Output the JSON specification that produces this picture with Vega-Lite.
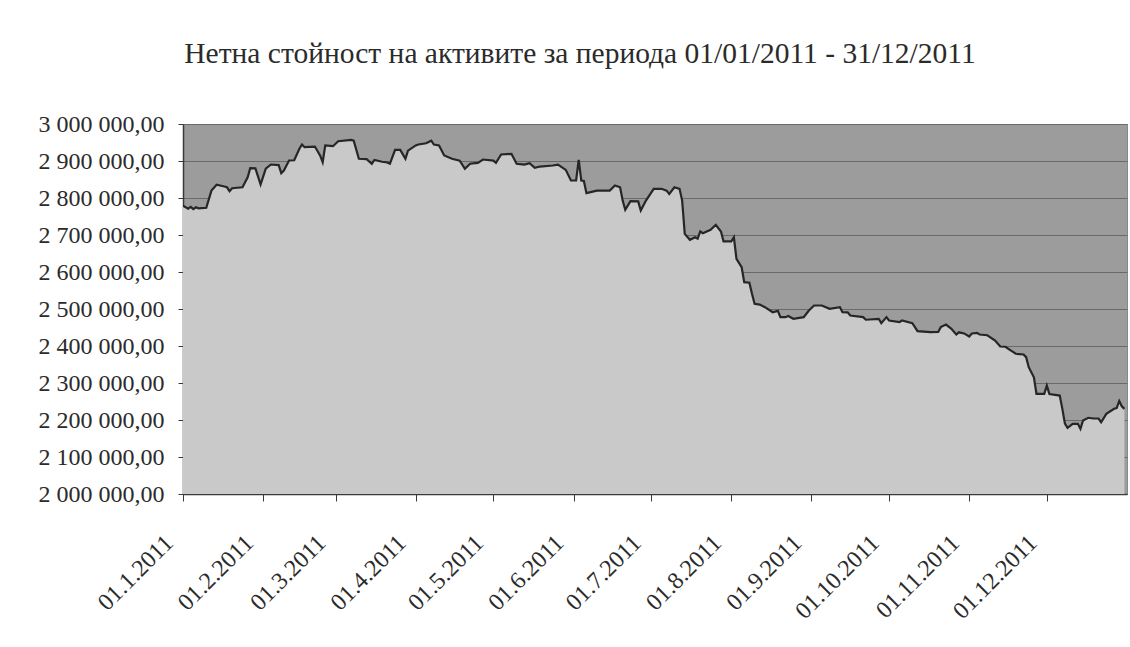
{
  "$schema": "https://vega.github.io/schema/vega-lite/v6.json",
  "width": 944,
  "height": 370,
  "autosize": {"type": "none"},
  "padding": {"left": 183, "top": 124, "right": 3, "bottom": 153},
  "background": "#ffffff",
  "config": {
    "locale": {"number": {"decimal": ",", "thousands": " ", "grouping": [3], "currency": ["", ""]}},
    "view": {"fill": "#9c9c9c", "stroke": "#888888", "strokeWidth": 1},
    "font": "Liberation Serif"
  },
  "title": {
    "text": "Нетна стойност на активите за периода 01/01/2011 - 31/12/2011",
    "font": "Liberation Serif",
    "fontSize": 29.5,
    "fontWeight": "normal",
    "color": "#2b2b2b",
    "anchor": "middle",
    "dx": -75,
    "offset": 43
  },
  "data": {"values": [
    {"date": "2011-01-01", "nav": 2779000},
    {"date": "2011-01-03", "nav": 2771000},
    {"date": "2011-01-04", "nav": 2776000},
    {"date": "2011-01-05", "nav": 2770000},
    {"date": "2011-01-06", "nav": 2775000},
    {"date": "2011-01-07", "nav": 2772000},
    {"date": "2011-01-10", "nav": 2773500},
    {"date": "2011-01-12", "nav": 2820000},
    {"date": "2011-01-14", "nav": 2835700},
    {"date": "2011-01-17", "nav": 2831000},
    {"date": "2011-01-18", "nav": 2829000},
    {"date": "2011-01-19", "nav": 2818500},
    {"date": "2011-01-20", "nav": 2826500},
    {"date": "2011-01-24", "nav": 2829000},
    {"date": "2011-01-26", "nav": 2856000},
    {"date": "2011-01-27", "nav": 2880600},
    {"date": "2011-01-29", "nav": 2880000},
    {"date": "2011-01-31", "nav": 2836500},
    {"date": "2011-02-02", "nav": 2879000},
    {"date": "2011-02-04", "nav": 2890500},
    {"date": "2011-02-07", "nav": 2889000},
    {"date": "2011-02-08", "nav": 2867000},
    {"date": "2011-02-09", "nav": 2874000},
    {"date": "2011-02-11", "nav": 2901300},
    {"date": "2011-02-13", "nav": 2902000},
    {"date": "2011-02-15", "nav": 2933000},
    {"date": "2011-02-16", "nav": 2944600},
    {"date": "2011-02-17", "nav": 2937300},
    {"date": "2011-02-21", "nav": 2939000},
    {"date": "2011-02-23", "nav": 2915000},
    {"date": "2011-02-24", "nav": 2896800},
    {"date": "2011-02-25", "nav": 2942000},
    {"date": "2011-02-28", "nav": 2940000},
    {"date": "2011-03-02", "nav": 2953500},
    {"date": "2011-03-07", "nav": 2957000},
    {"date": "2011-03-08", "nav": 2955000},
    {"date": "2011-03-10", "nav": 2906000},
    {"date": "2011-03-13", "nav": 2905000},
    {"date": "2011-03-15", "nav": 2892400},
    {"date": "2011-03-16", "nav": 2903000},
    {"date": "2011-03-19", "nav": 2898000},
    {"date": "2011-03-21", "nav": 2896000},
    {"date": "2011-03-22", "nav": 2892500},
    {"date": "2011-03-24", "nav": 2930000},
    {"date": "2011-03-26", "nav": 2930000},
    {"date": "2011-03-28", "nav": 2906000},
    {"date": "2011-03-29", "nav": 2928000},
    {"date": "2011-04-01", "nav": 2942000},
    {"date": "2011-04-02", "nav": 2944600},
    {"date": "2011-04-05", "nav": 2948000},
    {"date": "2011-04-07", "nav": 2955000},
    {"date": "2011-04-08", "nav": 2944600},
    {"date": "2011-04-10", "nav": 2942000},
    {"date": "2011-04-12", "nav": 2915000},
    {"date": "2011-04-15", "nav": 2906000},
    {"date": "2011-04-18", "nav": 2901000},
    {"date": "2011-04-20", "nav": 2879000},
    {"date": "2011-04-22", "nav": 2892500},
    {"date": "2011-04-25", "nav": 2895000},
    {"date": "2011-04-27", "nav": 2904000},
    {"date": "2011-05-01", "nav": 2901000},
    {"date": "2011-05-02", "nav": 2895000},
    {"date": "2011-05-04", "nav": 2917500},
    {"date": "2011-05-08", "nav": 2919500},
    {"date": "2011-05-10", "nav": 2892500},
    {"date": "2011-05-13", "nav": 2890500},
    {"date": "2011-05-15", "nav": 2894000},
    {"date": "2011-05-17", "nav": 2881600},
    {"date": "2011-05-19", "nav": 2885000},
    {"date": "2011-05-24", "nav": 2887800},
    {"date": "2011-05-26", "nav": 2890000},
    {"date": "2011-05-29", "nav": 2876000},
    {"date": "2011-05-31", "nav": 2847300},
    {"date": "2011-06-02", "nav": 2847300},
    {"date": "2011-06-03", "nav": 2903000},
    {"date": "2011-06-04", "nav": 2847000},
    {"date": "2011-06-05", "nav": 2846000},
    {"date": "2011-06-06", "nav": 2813000},
    {"date": "2011-06-10", "nav": 2820000},
    {"date": "2011-06-15", "nav": 2820000},
    {"date": "2011-06-17", "nav": 2833800},
    {"date": "2011-06-19", "nav": 2829000},
    {"date": "2011-06-20", "nav": 2793000},
    {"date": "2011-06-21", "nav": 2768000},
    {"date": "2011-06-23", "nav": 2791500},
    {"date": "2011-06-26", "nav": 2791000},
    {"date": "2011-06-27", "nav": 2766200},
    {"date": "2011-06-29", "nav": 2793000},
    {"date": "2011-07-02", "nav": 2824800},
    {"date": "2011-07-05", "nav": 2825000},
    {"date": "2011-07-07", "nav": 2820000},
    {"date": "2011-07-08", "nav": 2811000},
    {"date": "2011-07-10", "nav": 2829000},
    {"date": "2011-07-12", "nav": 2824800},
    {"date": "2011-07-13", "nav": 2793000},
    {"date": "2011-07-14", "nav": 2703000},
    {"date": "2011-07-16", "nav": 2687000},
    {"date": "2011-07-18", "nav": 2694000},
    {"date": "2011-07-19", "nav": 2690000},
    {"date": "2011-07-20", "nav": 2709500},
    {"date": "2011-07-21", "nav": 2705000},
    {"date": "2011-07-24", "nav": 2714000},
    {"date": "2011-07-26", "nav": 2727500},
    {"date": "2011-07-28", "nav": 2709500},
    {"date": "2011-07-29", "nav": 2683000},
    {"date": "2011-08-01", "nav": 2683000},
    {"date": "2011-08-02", "nav": 2694000},
    {"date": "2011-08-03", "nav": 2635600},
    {"date": "2011-08-05", "nav": 2613000},
    {"date": "2011-08-06", "nav": 2572400},
    {"date": "2011-08-08", "nav": 2571000},
    {"date": "2011-08-09", "nav": 2541000},
    {"date": "2011-08-10", "nav": 2514000},
    {"date": "2011-08-12", "nav": 2512000},
    {"date": "2011-08-14", "nav": 2505000},
    {"date": "2011-08-17", "nav": 2491300},
    {"date": "2011-08-19", "nav": 2495000},
    {"date": "2011-08-20", "nav": 2478000},
    {"date": "2011-08-22", "nav": 2478000},
    {"date": "2011-08-23", "nav": 2481000},
    {"date": "2011-08-25", "nav": 2473500},
    {"date": "2011-08-29", "nav": 2478000},
    {"date": "2011-08-31", "nav": 2496000},
    {"date": "2011-09-02", "nav": 2509500},
    {"date": "2011-09-05", "nav": 2509500},
    {"date": "2011-09-08", "nav": 2500500},
    {"date": "2011-09-12", "nav": 2505000},
    {"date": "2011-09-13", "nav": 2491300},
    {"date": "2011-09-15", "nav": 2491000},
    {"date": "2011-09-16", "nav": 2482500},
    {"date": "2011-09-21", "nav": 2478000},
    {"date": "2011-09-22", "nav": 2471000},
    {"date": "2011-09-27", "nav": 2473500},
    {"date": "2011-09-28", "nav": 2461700},
    {"date": "2011-09-30", "nav": 2478000},
    {"date": "2011-10-01", "nav": 2469000},
    {"date": "2011-10-05", "nav": 2464500},
    {"date": "2011-10-06", "nav": 2469000},
    {"date": "2011-10-10", "nav": 2461700},
    {"date": "2011-10-12", "nav": 2440000},
    {"date": "2011-10-17", "nav": 2437300},
    {"date": "2011-10-20", "nav": 2438000},
    {"date": "2011-10-21", "nav": 2451000},
    {"date": "2011-10-23", "nav": 2458000},
    {"date": "2011-10-25", "nav": 2447000},
    {"date": "2011-10-27", "nav": 2431000},
    {"date": "2011-10-28", "nav": 2437000},
    {"date": "2011-10-30", "nav": 2434000},
    {"date": "2011-11-01", "nav": 2425700},
    {"date": "2011-11-02", "nav": 2434000},
    {"date": "2011-11-04", "nav": 2435600},
    {"date": "2011-11-05", "nav": 2431000},
    {"date": "2011-11-08", "nav": 2429000},
    {"date": "2011-11-11", "nav": 2414800},
    {"date": "2011-11-13", "nav": 2398600},
    {"date": "2011-11-15", "nav": 2398000},
    {"date": "2011-11-17", "nav": 2388000},
    {"date": "2011-11-19", "nav": 2379000},
    {"date": "2011-11-22", "nav": 2377000},
    {"date": "2011-11-23", "nav": 2369800},
    {"date": "2011-11-24", "nav": 2342700},
    {"date": "2011-11-26", "nav": 2315600},
    {"date": "2011-11-27", "nav": 2270600},
    {"date": "2011-11-30", "nav": 2270600},
    {"date": "2011-12-01", "nav": 2293000},
    {"date": "2011-12-02", "nav": 2270000},
    {"date": "2011-12-06", "nav": 2266000},
    {"date": "2011-12-07", "nav": 2230000},
    {"date": "2011-12-08", "nav": 2190000},
    {"date": "2011-12-09", "nav": 2178900},
    {"date": "2011-12-11", "nav": 2189700},
    {"date": "2011-12-13", "nav": 2189700},
    {"date": "2011-12-14", "nav": 2176000},
    {"date": "2011-12-15", "nav": 2198600},
    {"date": "2011-12-17", "nav": 2206000},
    {"date": "2011-12-19", "nav": 2204000},
    {"date": "2011-12-21", "nav": 2204000},
    {"date": "2011-12-22", "nav": 2194000},
    {"date": "2011-12-24", "nav": 2216700},
    {"date": "2011-12-27", "nav": 2230300},
    {"date": "2011-12-28", "nav": 2232000},
    {"date": "2011-12-29", "nav": 2251000},
    {"date": "2011-12-30", "nav": 2237000},
    {"date": "2011-12-31", "nav": 2230000}
  ]},
  "encoding": {
    "x": {
      "field": "date",
      "type": "temporal",
      "scale": {"domain": [{"year": 2011, "month": 1, "date": 1}, {"year": 2012, "month": 1, "date": 1}]},
      "axis": {
        "title": null,
        "values": [
          {"year": 2011, "month": 1, "date": 1},
          {"year": 2011, "month": 2, "date": 1},
          {"year": 2011, "month": 3, "date": 1},
          {"year": 2011, "month": 4, "date": 1},
          {"year": 2011, "month": 5, "date": 1},
          {"year": 2011, "month": 6, "date": 1},
          {"year": 2011, "month": 7, "date": 1},
          {"year": 2011, "month": 8, "date": 1},
          {"year": 2011, "month": 9, "date": 1},
          {"year": 2011, "month": 10, "date": 1},
          {"year": 2011, "month": 11, "date": 1},
          {"year": 2011, "month": 12, "date": 1}
        ],
        "format": "%d.%-m.%Y",
        "labelAngle": -45,
        "labelAlign": "right",
        "labelBaseline": "middle",
        "labelFont": "Liberation Serif",
        "labelFontSize": 24,
        "labelColor": "#2b2b2b",
        "labelPadding": 38,
        "labelOffset": -14,
        "labelOverlap": false,
        "labelFlush": false,
        "labelBound": false,
        "grid": false,
        "domainColor": "#3a3a3a",
        "domainWidth": 1.5,
        "tickColor": "#3a3a3a",
        "tickSize": 7
      }
    },
    "y": {
      "field": "nav",
      "type": "quantitative",
      "scale": {"domain": [2000000, 3000000], "zero": false, "nice": false},
      "axis": {
        "title": null,
        "values": [2000000, 2100000, 2200000, 2300000, 2400000, 2500000, 2600000, 2700000, 2800000, 2900000, 3000000],
        "format": ",.2f",
        "labelFont": "Liberation Serif",
        "labelFontSize": 24,
        "labelColor": "#2b2b2b",
        "labelPadding": 14,
        "labelFlush": false,
        "grid": true,
        "gridColor": "#6a6a6a",
        "gridWidth": 1,
        "domainColor": "#3a3a3a",
        "domainWidth": 1.5,
        "tickColor": "#3a3a3a",
        "tickSize": 5
      }
    }
  },
  "layer": [
    {"mark": {"type": "area", "color": "#c9c9c9", "clip": true, "interpolate": "linear"}},
    {"mark": {"type": "line", "color": "#262626", "strokeWidth": 2.2, "clip": true}}
  ]
}
